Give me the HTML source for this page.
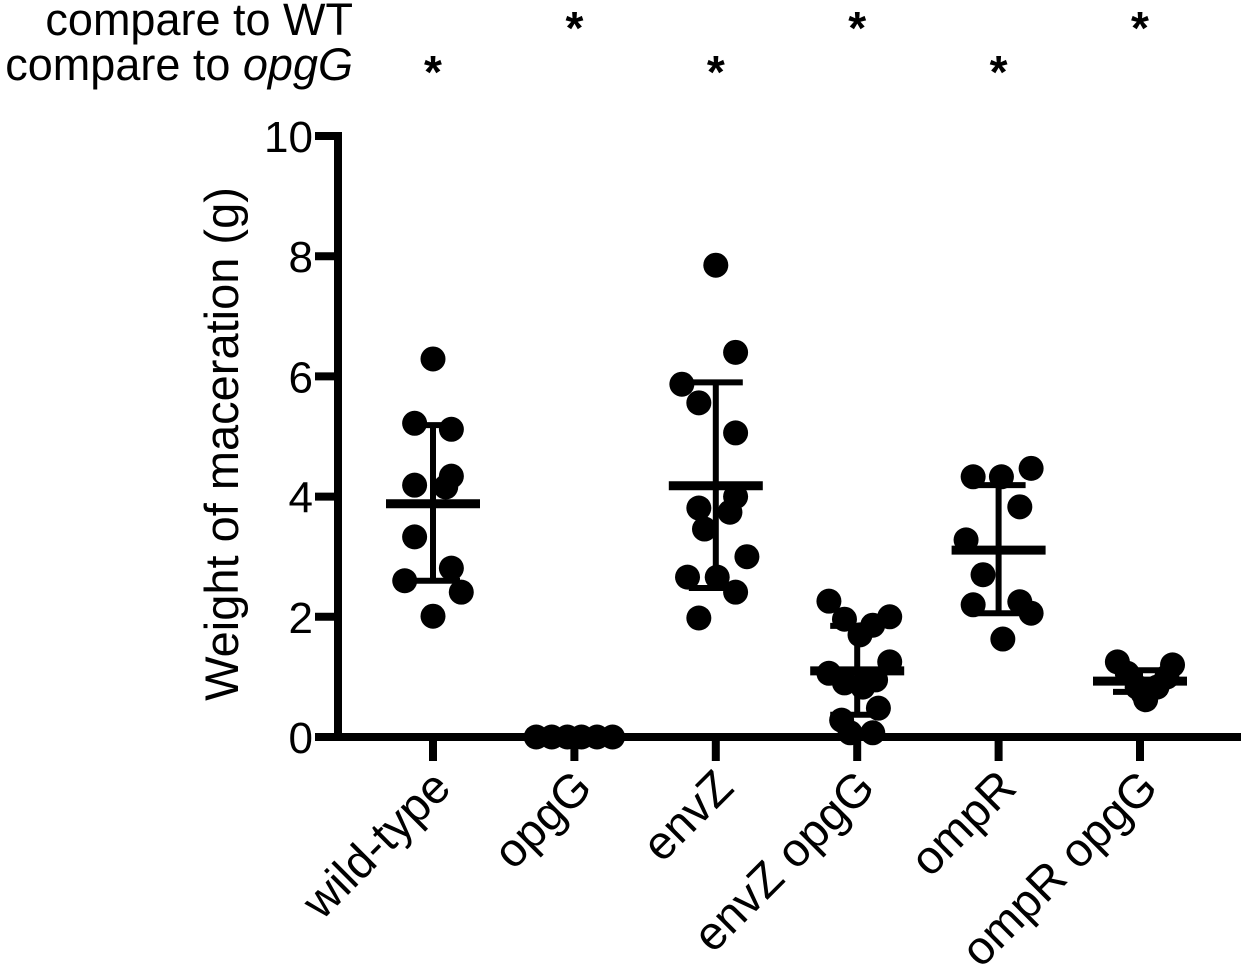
<!DOCTYPE html>
<html><head><meta charset="utf-8"><style>
html,body{margin:0;padding:0;background:#fff;}
svg{display:block;font-family:"Liberation Sans",Arial,sans-serif;}
</style></head><body>
<svg id="chart" width="1245" height="966" viewBox="0 0 1245 966" xmlns="http://www.w3.org/2000/svg">
<g>
<text x="353" y="35" font-size="45" text-anchor="end">compare to WT</text>
<text x="353" y="80" font-size="45" text-anchor="end">compare to <tspan font-style="italic">opgG</tspan></text>
</g>
<g id="plot"></g>
</svg>
<script>
const categories = ["wild-type","opgG","envZ","envZ opgG","ompR","ompR opgG"];
const wtValues = [6.29,5.22,5.12,4.34,4.19,4.16,3.33,2.81,2.6,2.41,2.01];
const wtJitter = [0,-0.13,0.13,0.13,-0.13,0.09,-0.13,0.13,-0.2,0.2,0];
const opggValues = [0,0,0,0,0,0];
const opggJitter = [-0.27,-0.16,-0.05,0.05,0.16,0.27];
const envzValues = [7.85,6.4,5.87,5.56,5.06,4.0,3.81,3.74,3.46,3.0,2.66,2.66,2.41,1.98];
const envzJitter = [0,0.14,-0.24,-0.12,0.14,0.14,-0.12,0.1,-0.08,0.22,-0.2,0.01,0.14,-0.12];
const envzOpggValues = [2.26,1.96,1.86,2.0,1.7,1.25,1.06,0.9,0.83,0.95,0.48,0.28,0.07,0.07];
const envzOpggJitter = [-0.2,-0.09,0.11,0.23,0.02,0.23,-0.2,-0.09,0.04,0.13,0.15,-0.11,-0.05,0.11];
const omprValues = [4.33,4.33,4.47,3.83,3.28,2.7,2.2,2.25,2.06,1.63];
const omprJitter = [-0.18,0.02,0.23,0.15,-0.23,-0.11,-0.18,0.15,0.23,0.03];
const omprOpggValues = [1.25,1.2,1.06,1.0,0.73,0.83,0.83,0.62];
const omprOpggJitter = [-0.16,0.23,-0.09,0.19,0.02,0.12,-0.02,0.04];
const means = [3.88,0,4.18,1.1,3.11,0.93];
const sdUpper = [5.19,0,5.9,1.85,4.19,1.11];
const sdLower = [2.6,0,2.48,0.37,2.06,0.75];
const starsWT = ["","*","","*","","*"];
const starsOpgG = ["*","","*","","*",""];
const yTicks = [0,2,4,6,8,10];

const NS="http://www.w3.org/2000/svg";
const plot=document.getElementById('plot');
const x0=433, step=141.4;
function xs(i){return x0+i*step;}
function ys(v){return 737-v*60.1;}
function mk(tag,attrs,parent){const e=document.createElementNS(NS,tag);for(const k in attrs)e.setAttribute(k,attrs[k]);(parent||plot).appendChild(e);return e;}

const yAxis=mk('line',{x1:338,y1:ys(10)-4,x2:338,y2:741,stroke:'#000','stroke-width':8});


const xAxis=mk('line',{x1:334,y1:737,x2:1241,y2:737,stroke:'#000','stroke-width':8});


yTicks.forEach(t=>{
  const tk=mk('line',{x1:315,y1:ys(t),x2:338,y2:ys(t),stroke:'#000','stroke-width':8});
  
  
  const lb=mk('text',{x:313,y:ys(t)+16,'font-size':44,'text-anchor':'end'});
  lb.textContent=t;
  
  
});
const yt=mk('text',{x:0,y:0,'font-size':47,'text-anchor':'middle',transform:'translate(238,444) rotate(-90)'});
yt.textContent='Weight of maceration (g)';



const groups=[[wtValues,wtJitter],[opggValues,opggJitter],[envzValues,envzJitter],[envzOpggValues,envzOpggJitter],[omprValues,omprJitter],[omprOpggValues,omprOpggJitter]];
categories.forEach((c,i)=>{
  const cx=xs(i);
  const tk=mk('line',{x1:cx,y1:737,x2:cx,y2:761,stroke:'#000','stroke-width':8});
  
  
  const lb=mk('text',{x:0,y:0,'font-size':47,'text-anchor':'end',transform:'translate('+(cx+20)+',790) rotate(-45)'});
  lb.textContent=c;
  
  
  const s1=mk('text',{x:cx,y:44,'font-size':46,'font-weight':'bold','text-anchor':'middle'});
  s1.textContent=starsWT[i];
  
  
  const s2=mk('text',{x:cx,y:88,'font-size':46,'font-weight':'bold','text-anchor':'middle'});
  s2.textContent=starsOpgG[i];
  
  
  const [vals,jit]=groups[i];
  vals.forEach((v,j)=>{
    const d=mk('circle',{cx:cx+jit[j]*step,cy:ys(v),r:12.5,fill:'#000'});
    
    
  });
  if(means[i]>0){
    const eb=mk('line',{x1:cx,y1:ys(sdUpper[i]),x2:cx,y2:ys(sdLower[i]),stroke:'#000','stroke-width':6});
    
    
    const cu=mk('line',{x1:cx-27,y1:ys(sdUpper[i]),x2:cx+27,y2:ys(sdUpper[i]),stroke:'#000','stroke-width':6});
    
    
    const cl=mk('line',{x1:cx-27,y1:ys(sdLower[i]),x2:cx+27,y2:ys(sdLower[i]),stroke:'#000','stroke-width':6});
    
    
    const m=mk('line',{x1:cx-47,y1:ys(means[i]),x2:cx+47,y2:ys(means[i]),stroke:'#000','stroke-width':9});
    
    
  }
});
</script>
</body></html>
